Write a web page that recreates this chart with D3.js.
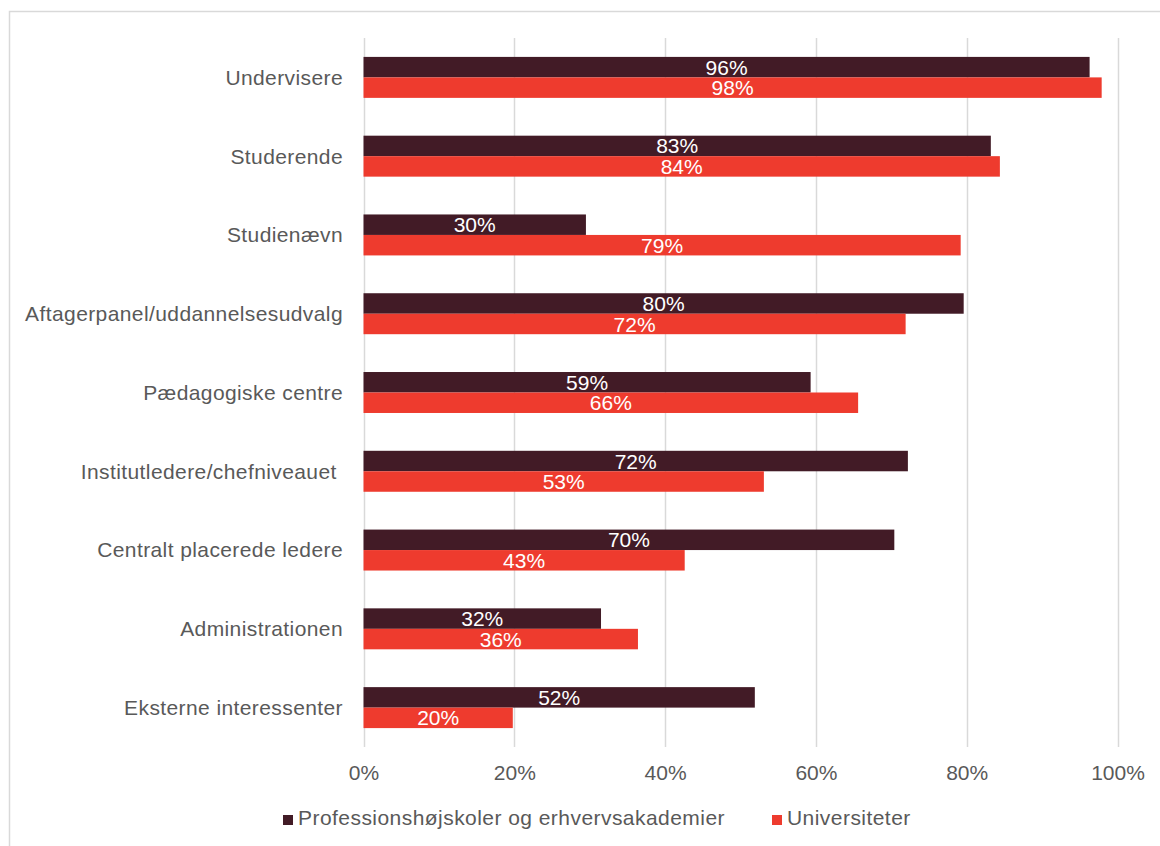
<!DOCTYPE html>
<html>
<head>
<meta charset="utf-8">
<script src="https://cdn.jsdelivr.net/npm/d3@7"></script>
<style>
  html, body { margin: 0; padding: 0; background: #fff; }
  svg { display: block; font-family: "Liberation Sans", Arial, sans-serif; }
  svg text { white-space: pre; }
</style>
</head>
<body>
<svg id="chart" width="1160" height="846"></svg>
<script>
const categories = [
  "Undervisere",
  "Studerende",
  "Studienævn",
  "Aftagerpanel/uddannelsesudvalg",
  "Pædagogiske centre",
  "Institutledere/chefniveauet ",
  "Centralt placerede ledere",
  "Administrationen",
  "Eksterne interessenter"
];
const seriesNames = ["Professionshøjskoler og erhvervsakademier", "Universiteter"];
const profValues = [0.963, 0.832, 0.295, 0.796, 0.593, 0.722, 0.704, 0.315, 0.519];
const uniValues  = [0.979, 0.844, 0.792, 0.719, 0.656, 0.531, 0.426, 0.364, 0.198];
const tickValues = [0, 0.2, 0.4, 0.6, 0.8, 1.0];
const tickLabels = ["0%", "20%", "40%", "60%", "80%", "100%"];
const colors = ["#421b26", "#ee3b2e"];

const svg = d3.select("#chart");

// outer frame
svg.append("rect")
  .attr("x", 9.5).attr("y", 11.5)
  .attr("width", 1300).attr("height", 1000)
  .attr("fill", "none").attr("stroke", "#d9d9d9").attr("stroke-width", 1.5);

const plotTop = 38, plotBottom = 747;
const x = d3.scaleLinear().domain([0, 1]).range([363.5, 1117.5]);
const y = d3.scaleBand().domain(categories).range([plotTop, plotBottom])
  .paddingInner(0.48).paddingOuter(0.24);
const ySub = d3.scaleBand().domain([0, 1]).range([0, y.bandwidth()]);

// gridlines
svg.append("g").selectAll("line").data(tickValues).join("line")
  .attr("x1", d => Math.round(x(d)) + 0.5).attr("x2", d => Math.round(x(d)) + 0.5)
  .attr("y1", plotTop).attr("y2", plotBottom)
  .attr("stroke", "#d9d9d9").attr("stroke-width", 1.5);

// x axis labels
const xAxis = d3.axisBottom(x).tickValues(tickValues)
  .tickFormat((d, i) => tickLabels[i]).tickSize(0).tickPadding(0);
const gx = svg.append("g").attr("transform", `translate(0, ${plotBottom})`).call(xAxis);
gx.select(".domain").remove();
gx.selectAll("text").attr("y", 26).attr("dy", "0.35em")
  .attr("font-size", 21).attr("fill", "#595959")
  .attr("font-family", "Liberation Sans, Arial, sans-serif");

// y axis labels
const yAxis = d3.axisLeft(y).tickSize(0).tickPadding(0);
const gy = svg.append("g").attr("transform", "translate(343, 0)").call(yAxis);
gy.select(".domain").remove();
gy.selectAll("text").attr("x", 0).attr("dy", "0.35em")
  .attr("font-size", 21).attr("letter-spacing", 0.4).attr("fill", "#595959")
  .attr("font-family", "Liberation Sans, Arial, sans-serif");

const series = [profValues, uniValues];
series.forEach((vals, si) => {
  const g = svg.append("g");
  g.selectAll("rect").data(vals).join("rect")
    .attr("x", x(0))
    .attr("y", (d, i) => y(categories[i]) + ySub(si))
    .attr("width", d => x(d) - x(0))
    .attr("height", ySub.bandwidth())
    .attr("fill", colors[si]);
  g.selectAll("text").data(vals).join("text")
    .attr("x", d => (x(0) + x(d)) / 2)
    .attr("y", (d, i) => y(categories[i]) + ySub(si) + ySub.bandwidth() / 2)
    .attr("dy", "0.36em")
    .attr("text-anchor", "middle")
    .attr("font-size", 21)
    .attr("fill", "#ffffff")
    .text(d => Math.round(d * 100) + "%");
});

// legend
const legendItems = [
  { name: seriesNames[0], color: colors[0], x: 283 },
  { name: seriesNames[1], color: colors[1], x: 772 }
];
const lg = svg.append("g");
legendItems.forEach(it => {
  lg.append("rect").attr("x", it.x).attr("y", 815).attr("width", 10).attr("height", 10)
    .attr("fill", it.color);
  lg.append("text").attr("x", it.x + 15).attr("y", 818).attr("dy", "0.35em")
    .attr("font-size", 21).attr("letter-spacing", 0.45).attr("fill", "#595959").text(it.name);
});
</script>
</body>
</html>
